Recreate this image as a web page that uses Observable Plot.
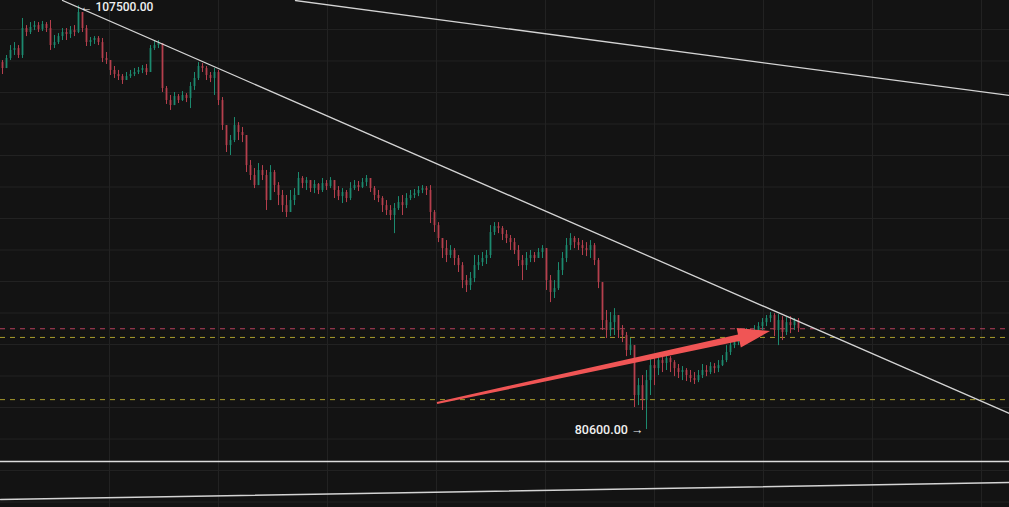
<!DOCTYPE html>
<html><head><meta charset="utf-8">
<script src="https://cdn.jsdelivr.net/npm/d3@7"></script>
<script src="https://cdn.jsdelivr.net/npm/@observablehq/plot@0.6"></script>
<style>html,body{margin:0;padding:0;background:#131313;overflow:hidden}#chart svg{display:block}</style>
</head><body><div id="chart"></div>
<script>
// ---- data (price in USD, candle index on x) ----
const firstOpen = 103900;
const closes = [
103520,104160,104670,104790,104350,106060,105810,106130,106250,106000,
106320,106060,104980,105170,105550,105810,105680,105930,105810,107080,
106060,105170,105300,105430,105170,104160,104030,103400,103140,103010,
102760,103010,103140,103270,103400,103520,103270,104790,104980,105110,
102250,101490,101170,101740,101490,101810,101620,102380,102890,103650,
103520,103080,102890,103270,101490,99900,98630,98950,99900,99460,
99270,97360,96730,96090,97050,96730,95140,96920,96090,95460,
94820,94380,95140,95460,96540,96220,96410,95900,96160,95780,
96220,96030,96410,95780,95390,95650,95270,95900,96090,95970,
96280,96540,95900,95460,95270,94820,94510,94190,94630,95010,
94820,95270,95460,95580,95780,95900,95780,94380,93550,92730,
92090,91650,91970,91460,91010,90060,89740,90190,91010,91200,
91460,91650,93110,93490,93360,92980,92730,92470,91970,91330,
91010,91460,91650,91460,91840,92090,90060,89300,89550,90700,
91460,92280,92730,92470,92280,92090,91970,92280,91330,89930,
87520,86890,87390,87840,86890,86570,85620,85930,82760,83390,
82440,83710,84660,84470,84980,84790,85110,84850,84470,84220,
84350,84030,83840,83710,84030,84350,84220,84600,84470,84660,
84980,85490,85930,86120,86570,86440,86690,86570,86890,87140,
87390,87650,87840,86890,87520,86760,87390,87200,87520,87010];
const highs = [
104030,104350,104980,105170,104980,106700,106250,106440,106510,106440,
106510,106440,106570,105620,105740,106060,106060,106190,106250,107500,
107080,106250,105490,105550,105550,105430,104540,103900,103650,103400,
103140,103270,103400,103520,103590,103710,103780,104980,105240,105300,
105110,102380,101810,102000,101870,102060,101930,102630,103270,103900,
103840,103650,103270,103520,103400,101680,99900,99270,100410,100090,
99780,99270,97680,97170,97490,97360,97050,97360,97050,96280,
95780,95460,95780,95900,96920,96660,96600,96410,96410,96220,
96540,96410,96600,96410,96030,95900,95780,96280,96410,96350,
96540,96730,96540,96030,95780,95390,95140,94820,94950,95390,
95460,95580,95780,95840,96030,96090,96030,96090,94510,93740,
92730,92600,92280,92090,91650,91200,90380,90570,91650,91650,
91840,91970,93550,93740,93740,93490,93240,92920,92730,92280,
91650,91840,91970,91840,92090,92280,92090,90380,90060,91200,
91840,92730,93040,92850,92730,92600,92470,92600,92410,91460,
89930,88160,88030,88280,87650,87200,86760,86380,85930,83840,
84030,84350,85300,85230,85360,85230,85300,85230,84980,84730,
84600,84470,84350,84220,84350,84730,84660,84850,84790,84980,
85300,85930,86250,86440,86890,86890,87010,86950,87200,87390,
87650,87840,88030,87960,87900,87770,87710,87770,87650,87650];
const lows = [
103140,103520,104030,104350,104160,104160,105550,105680,105930,105810,
105870,105810,104670,104790,105050,105300,105300,105430,105550,105740,
105810,104920,104920,105050,104980,103900,103780,103080,102890,102760,
102510,102760,102890,103010,103140,103200,103080,103400,104670,104790,
102000,101240,100860,101240,101300,101430,101360,100980,102130,102760,
103270,102760,102630,101810,101170,99590,98190,98000,98820,98950,
98820,96920,96410,95900,96540,96410,94510,95140,95650,94820,
94380,94060,94630,94820,95650,95900,95780,95650,95580,95520,
95650,95780,95900,95270,95140,94950,95010,95140,95780,95710,
95900,96030,95650,95140,95010,94380,94190,93870,93040,94510,
94190,94630,95140,95270,95390,95580,95460,93680,93110,92470,
91460,91200,91460,91010,90570,89550,89300,89430,89930,90700,
90950,91080,91460,92920,93040,92600,92410,91970,91710,90950,
90060,90700,91200,91200,91460,91460,89430,88660,88920,89430,
90380,91200,91970,92090,91970,91650,91580,91460,91010,89550,
86890,86380,86500,86570,86380,86120,85230,85300,82000,82120,
81810,80600,82760,83390,84030,84220,84350,84220,83960,83840,
83710,83650,83580,83460,83580,83840,83960,84090,84150,84220,
84600,84850,85300,85740,85930,85930,86120,86250,86500,86630,
86890,87140,87390,86500,85930,86250,86570,86690,86890,86760];

const gridPrices = [76000,78000,80000,82000,84000,86000,88000,90000,92000,94000,96000,98000,100000,102000,104000,106000];
const gridIdx = [26.75,54,81.25,108.5,135.75,163,190.25,217.5,244.75];

const trendMain  = [{i: 15, p: 107841}, {i: 251.75, p: 81619}];
const trendUpper = [{i: 73.25, p: 107841}, {i: 251.75, p: 101810}];
const trendLower = [{i: -0.5, p: 76160}, {i: 251.75, p: 77240}];
const flatLevel = 78570;
const redLevel = 87000;
const yellowLevels = [86450, 82500];
const arrowFrom = {i: 108.75, p: 82255};
const arrowTo = {i: 192, p: 86826};
const peakLabel = {i: 19, p: 107500, text: "← 107500.00"};
const troughLabel = {i: 161, p: 80600, text: "80600.00 →"};

// ---- build table ----
const UP = "#1c8a6f", DOWN = "#b53f4d";
const candles = closes.map((c, i) => {
  const o = i === 0 ? firstOpen : closes[i - 1];
  return {i, o, c, h: Math.max(highs[i], o, c), l: Math.min(lows[i], o, c), col: c >= o ? UP : DOWN};
});

function arrowMark(index, scales) {
  if (!scales || typeof scales.x !== "function") return null;
  const tx = scales.x(arrowFrom.i), ty = scales.y(arrowFrom.p);
  const px = scales.x(arrowTo.i), py = scales.y(arrowTo.p);
  const dx = px - tx, dy = py - ty, len = Math.hypot(dx, dy);
  const ux = dx / len, uy = dy / len, nx = -uy, ny = ux;
  const L = 32, hw = 10, w0 = 1.1, w1 = 3.4;
  const bx = px - ux * L, by = py - uy * L;
  const pts = [
    [tx + nx * w0, ty + ny * w0], [bx + nx * w1, by + ny * w1], [bx + nx * hw, by + ny * hw],
    [px, py], [bx - nx * hw, by - ny * hw], [bx - nx * w1, by - ny * w1], [tx - nx * w0, ty - ny * w0]
  ];
  const path = document.createElementNS("http://www.w3.org/2000/svg", "path");
  path.setAttribute("d", "M" + pts.map(p => p.join(",")).join("L") + "Z");
  path.setAttribute("fill", "#f05555");
  return path;
}

const font = "Roboto, 'Liberation Sans', Arial, sans-serif";
const chart = Plot.plot({
  width: 1009, height: 507, margin: 0,
  style: {background: "#131313"},
  x: {domain: [-0.5, 251.75], axis: null},
  y: {domain: [75652, 107841], axis: null},
  color: {type: "identity"},
  marks: [
    Plot.ruleY(gridPrices, {stroke: "#222222"}),
    Plot.ruleX(gridIdx, {stroke: "#222222"}),
    Plot.ruleY([redLevel], {stroke: "#b8415c", strokeDasharray: "5,5"}),
    Plot.ruleY(yellowLevels, {stroke: "#a89c2c", strokeDasharray: "5,5"}),
    Plot.ruleX(candles, {x: "i", y1: "l", y2: "h", stroke: "col", strokeWidth: 1}),
    Plot.ruleX(candles, {x: "i", y1: "o", y2: "c", stroke: "col", strokeWidth: 1.8}),
    Plot.line(trendMain, {x: "i", y: "p", stroke: "#d4d4d4", strokeWidth: 1.3}),
    Plot.line(trendUpper, {x: "i", y: "p", stroke: "#d4d4d4", strokeWidth: 1.3}),
    Plot.line(trendLower, {x: "i", y: "p", stroke: "#d4d4d4", strokeWidth: 1.5}),
    Plot.ruleY([flatLevel], {stroke: "#dcdcdc", strokeWidth: 1.5}),
    arrowMark,
    Plot.text([peakLabel], {x: "i", y: "p", text: "text", textAnchor: "start", lineAnchor: "top", dx: 2, dy: -3, fill: "#f0f0f0", fontSize: 12, fontWeight: 500, fontFamily: font}),
    Plot.text([troughLabel], {x: "i", y: "p", text: "text", textAnchor: "end", dx: -3, fill: "#f0f0f0", fontSize: 12.5, fontWeight: 500, fontFamily: font})
  ]
});
document.getElementById("chart").appendChild(chart);
</script>
</body></html>
